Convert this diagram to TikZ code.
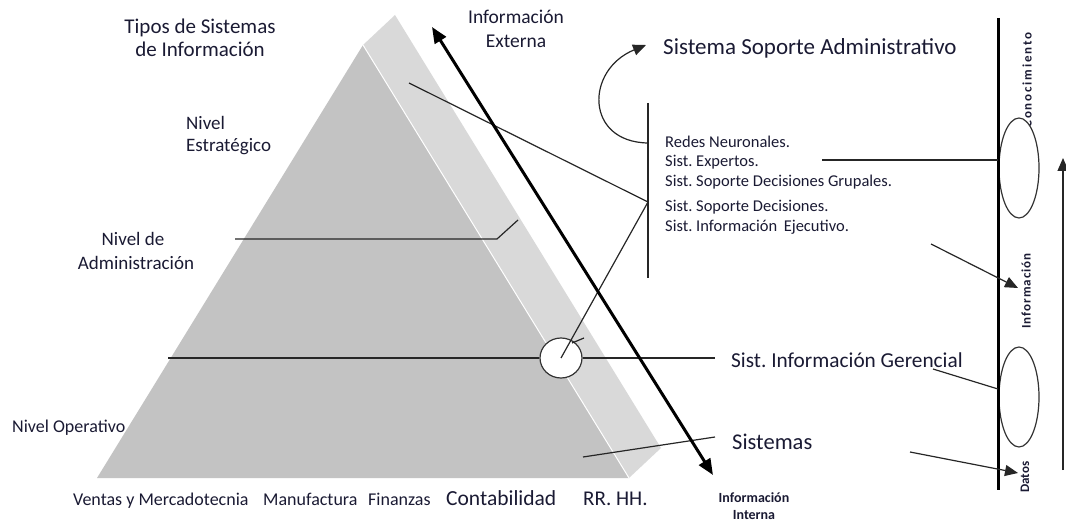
\documentclass[tikz,border=0pt]{standalone}
\usepackage{fontspec}
\setmainfont{Carlito}
\usetikzlibrary{arrows.meta,shapes.geometric}
\definecolor{frontgray}{HTML}{C3C3C3}
\definecolor{sidegray}{HTML}{D9D9D9}
\definecolor{txt}{HTML}{1A1A33}
\newcommand\fsz[2]{\fontsize{#1}{#2}\selectfont}
\frenchspacing
\tikzset{
  lbl/.style={inner sep=0pt, text=txt, font=\fsz{19}{23}, anchor=base west},
  big/.style={inner sep=0pt, text=txt, font=\fsz{21}{25}, anchor=base west},
  lst/.style={inner sep=0pt, text=txt, font=\fsz{16.5}{19}, anchor=base west},
  vert/.style={inner sep=0pt, text=txt, rotate=90, anchor=center},
  thinln/.style={line width=1.2pt, draw=black!85},
  tip/.style={-{Triangle[length=13pt,width=11pt]}},
  oval/.style={draw=black!80, line width=1.2pt, fill=white, ellipse, inner sep=0pt},
}
\begin{document}
\begin{tikzpicture}[x=1pt, y=-1pt]
\useasboundingbox (0,0) rectangle (1066,521);
% pyramid
\fill[sidegray] (363,45) -- (395,15) -- (661,448) -- (629,478) -- cycle;
\fill[frontgray] (363,45) -- (97,478) -- (629,478) -- cycle;
\draw[white, line width=1pt] (363,45) -- (629,478);

% titles and labels
\node[big, anchor=base] (t1) at (200,34) {Tipos de Sistemas};
\node[big, anchor=base] (t2) at (200,57) {de Información};
\node[lbl] (ne1) at (186,130) {Nivel};
\node[lbl] (ne2) at (186,152) {Estratégico};
\node[lbl, anchor=base] (na1) at (133,246) {Nivel de};
\node[lbl, anchor=base] (na2) at (136,270) {Administración};
\node[lbl, font=\fsz{18}{22}] (nop) at (12,432) {Nivel Operativo};

% bottom labels
\node[lbl, font=\fsz{18}{22}] (b1) at (73,505) {Ventas y Mercadotecnia};
\node[lbl, font=\fsz{18}{22}] (b2) at (263,505) {Manufactura};
\node[lbl, font=\fsz{18}{22}] (b3) at (368,505) {Finanzas};
\node[lbl, font=\fsz{21.5}{24}] (b4) at (446,505) {Contabilidad};
\node[lbl, font=\fsz{21}{24}] (b5) at (583,505) {RR. HH.};

% info labels
\node[lbl, anchor=base, font=\fsz{19.5}{22}] (ie1) at (516,24) {Información};
\node[lbl, anchor=base, font=\fsz{19.5}{22}] (ie2) at (516,48) {Externa};
\node[lbl, anchor=base, font=\fsz{14}{18}\bfseries] (ii1) at (754,502) {Información};
\node[lbl, anchor=base, font=\fsz{14}{18}\bfseries] (ii2) at (754,519) {Interna};

% right side texts
\node[big, font=\fsz{23}{26}] (ssa) at (663,55) {Sistema Soporte Administrativo};
\node[lst] (l1) at (665,148) {Redes Neuronales.};
\node[lst] (l2) at (665,167) {Sist. Expertos.};
\node[lst] (l3) at (665,187) {Sist. Soporte Decisiones Grupales.};
\node[lst] (l4) at (665,212) {Sist. Soporte Decisiones.};
\node[lst] (l5) at (665,232) {Sist. Información\, Ejecutivo.};
\node[big, font=\fsz{21.3}{25}] (sig) at (731,367) {Sist. Información Gerencial};
\node[big, font=\fsz{22.5}{25}] (sis) at (732,449) {Sistemas};

% vertical texts
\node[vert, font=\fsz{13}{15}\bfseries\addfontfeature{LetterSpace=14}] (vc) at (1027,80) {Conocimiento};
\node[vert, font=\fsz{13}{15}\bfseries\addfontfeature{LetterSpace=8}] (vi) at (1026,291) {Información};
\node[vert, font=\fsz{13}{15}\bfseries] (vd) at (1025,477) {Datos};

% coordinates
\coordinate (pe) at (409,83);
\coordinate (ltop) at (648,103);
\coordinate (lbot) at (648,278);
\coordinate (j0) at (648,143);
\coordinate (j1) at (648,202);
\coordinate (ctip) at (646,45);
\coordinate (adm0) at (235,239);
\coordinate (adm1) at (497,239);
\coordinate (adm2) at (518,220);
\coordinate (h0) at (168,358);
\coordinate (h1) at (715,358);
\coordinate (s0) at (583,457);
\coordinate (s1) at (715,437);
\coordinate (k0) at (822,160);
\coordinate (g0) at (933,369);
\coordinate (a1s) at (931,244);
\coordinate (a1e) at (1018,288);
\coordinate (a2s) at (910,452);
\coordinate (a2e) at (1018,473);
\coordinate (up0) at (1063,470);
\coordinate (up1) at (1063,158);
\coordinate (vt) at (998,18);
\coordinate (vb) at (998,490);
\coordinate (bigA) at (432,27);
\coordinate (bigB) at (713,475);
\coordinate (tk0) at (572,343);
\coordinate (tk1) at (584,338);

% lines on pyramid
\draw[thinln] (adm0) -- (adm1) -- (adm2);
\draw[thinln] (pe) -- (j1);
\draw[thinln] (ltop) -- (lbot);
\draw[thinln, tip] (j0) .. controls (585,142) and (585,70) .. (ctip);
\draw[thinln] (s0) -- (s1);

% small oval
\node[oval, minimum width=42pt, minimum height=40pt] (ov) at (561,358) {};
\draw[thinln] (h0) -- (ov.west);
\draw[thinln] (ov.east) -- (h1);
\draw[thinln] (ov.center) -- (j1);
\draw[thinln] (tk0) -- (tk1);

% big double arrow
\draw[line width=3pt, {Triangle[length=16pt,width=13pt]}-{Triangle[length=16pt,width=13pt]}] (bigA) -- (bigB);

% right ovals and scale
\node[oval, minimum width=40pt, minimum height=100pt] (o1) at (1019,168) {};
\node[oval, minimum width=40pt, minimum height=100pt] (o2) at (1019,397) {};
\draw[line width=3pt] (vt) -- (vb);
\draw[thinln] (k0) -- (vt |- k0);
\draw[thinln] (g0) -- (vt |- 0,389);
\draw[thinln, tip] (a1s) -- (a1e);
\draw[thinln, tip] (a2s) -- (a2e);
\draw[thinln, tip] (up0) -- (up1);
\end{tikzpicture}
\end{document}
